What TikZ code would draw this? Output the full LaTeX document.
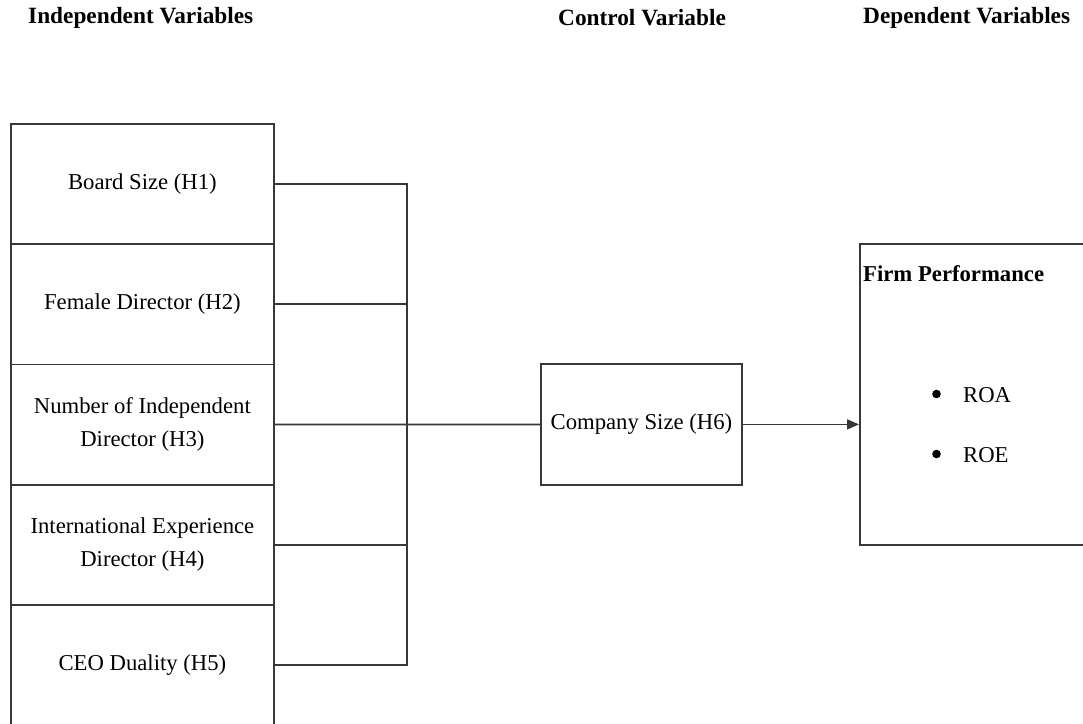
\documentclass[tikz,border=0pt]{standalone}
\usepackage{fontspec}
\setmainfont{Liberation Serif}
\usetikzlibrary{arrows.meta}
\begin{document}
\begin{tikzpicture}[x=1pt,y=-1pt,
  every node/.style={font=\fontsize{22.7}{32.5}\selectfont},
  ln/.style={draw=black!78, line width=1.8pt},
  ivbox/.style={ln, minimum width=263pt, minimum height=120.25pt, inner sep=0pt, align=center, anchor=north west},
  header/.style={font=\fontsize{23.3}{28}\selectfont\bfseries, anchor=west, inner sep=0pt},
  item/.style={anchor=west, inner sep=0pt, label={[label distance=22pt, inner sep=0pt, yshift=1pt]left:{\tikz\fill[black] (0,0) circle (4.3pt);}}}
]
\clip (0,0) rectangle (1083,723);
\useasboundingbox (0,0) rectangle (1083,723);
\fill[white] (0,0) rectangle (1083,723);

% headers
\node[header] (hiv) at (28,18) {Independent Variables};
\node[header] (hcv) at (558,18) {Control Variable};
\node[header] (hdv) at (863,18) {Dependent Variables};

% independent variable boxes
\node[ivbox] (b1) at (10,123) {Board Size (H1)};
\node[ivbox] (b2) at (10,243.25) {Female Director (H2)};
\node[ivbox] (b3) at (10,363.5) {Number of Independent\\Director (H3)};
\node[ivbox] (b4) at (10,483.75) {International Experience\\Director (H4)};
\node[ivbox] (b5) at (10,604) {CEO Duality (H5)};

% control variable
\node[ln, minimum width=201pt, minimum height=121pt, inner sep=0pt, anchor=north west] (cs) at (540,363) {Company Size (H6)};

% dependent variable box
\node[ln, minimum width=260pt, minimum height=301pt, inner sep=0pt, anchor=north west] (fp) at (859,243) {};
\node[font=\fontsize{22.7}{28}\selectfont\bfseries, anchor=west, inner sep=0pt] (fpt) at (863,274) {Firm Performance};
\node[item] (roa) at (963,395) {ROA};
\node[item] (roe) at (963,455) {ROE};

% connectors
\coordinate (j) at (407,423.6);
\draw[ln] (b1.east) -| (j);
\draw[ln] (b5.east) -| (j);
\draw[ln] (b2.east) -- (b2.east -| j);
\draw[ln] (b4.east) -- (b4.east -| j);
\draw[ln] (b3.east) -- (cs.west);
\draw[ln, -{Triangle[length=12pt,width=10pt]}] (cs.east) -- (cs.east -| fp.west);
\end{tikzpicture}
\end{document}
